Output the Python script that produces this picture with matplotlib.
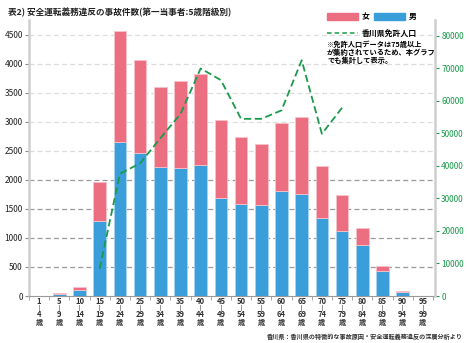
"""
安全運転義務違反の事故件数（第一当事者：5歳階級別）
男女別の積み上げ棒グラフ + 香川県免許人口（右軸）
"""
import numpy as np
import matplotlib.pyplot as plt
from matplotlib.patches import Rectangle
from matplotlib.lines import Line2D
from matplotlib.ticker import FixedLocator

plt.rcParams['font.family'] = ['Noto Sans CJK JP', 'DejaVu Sans']

# 年齢階級（下限, 上限）
age_lo = ['1', '5', '10', '15', '20', '25', '30', '35', '40', '45',
          '50', '55', '60', '65', '70', '75', '80', '85', '90', '95']
age_hi = ['4', '9', '14', '19', '24', '29', '34', '39', '44', '49',
          '54', '59', '64', '69', '74', '79', '84', '89', '94', '99']

# 事故件数（男・女）
male = [0, 29, 103, 1297, 2655, 2468, 2227, 2210, 2250, 1693,
        1584, 1562, 1803, 1762, 1348, 1124, 878, 430, 62, 0]
female = [0, 17, 57, 661, 1910, 1596, 1377, 1498, 1573, 1338,
          1154, 1046, 1171, 1326, 896, 615, 288, 81, 16, 0]

# 香川県免許人口（15～19歳から75歳以上まで）
license_idx = [3, 4, 5, 6, 7, 8, 9, 10, 11, 12, 13, 14, 15]
license_pop = [8400, 37600, 40800, 48500, 56000, 70000, 66400,
               54500, 54500, 57100, 72500, 49900, 57900]

COL_F = '#EB6E81'
COL_M = '#3A9EDA'
COL_G = '#1B9A4B'


def draw_chart(out_path='out.png'):
    """棒グラフと折れ線を描画"""
    fig = plt.figure(figsize=(4.69, 3.43), dpi=100)
    ax = fig.add_axes([0.0618, 0.137, 0.8657, 0.8047])

    x = np.arange(len(age_lo))
    m = np.array(male)
    f = np.array(female)

    # グリッド（2000以下は濃い破線）
    for v in range(500, 5000, 500):
        c = '#9a9a9a' if v <= 2000 else '#dddddd'
        ax.axhline(v, color=c, lw=0.9, ls=(0, (4, 2.5)), zorder=0)

    ax.bar(x, m, width=0.63, color=COL_M, edgecolor='#a8d4f0', lw=0.6, zorder=2)
    ax.bar(x, f, width=0.63, bottom=m, color=COL_F, edgecolor='#f7c3cb',
           lw=0.6, zorder=2)

    ax.set_xlim(-0.5, 19.6)
    ax.set_ylim(0, 4750)
    ax.set_yticks(range(0, 5000, 500))
    ax.tick_params(axis='y', labelsize=6, length=3, color='#888888', width=0.8,
                   pad=1.5, labelcolor='#222222')

    # x軸ラベルは縦書き風に1行ずつ配置
    ax.set_xticks(x)
    ax.set_xticklabels([])
    ax.tick_params(axis='x', length=0)
    ax.xaxis.set_minor_locator(FixedLocator(np.arange(-0.5, 20, 1.0)))
    ax.tick_params(axis='x', which='minor', length=3, color='#999999', width=0.6)

    trans = ax.get_xaxis_transform()
    ax_h = 276.0

    def ay(py):
        return (296.0 - py) / ax_h

    for i, (a, b) in enumerate(zip(age_lo, age_hi)):
        kw = dict(transform=trans, ha='center', va='center', fontweight='bold',
                  color='#333333', clip_on=False)
        ax.text(i, ay(301.5), a, fontsize=5.5, **kw)
        ax.text(i, ay(307.5), '|', fontsize=3.5, **kw)
        ax.text(i, ay(314), b, fontsize=5.5, **kw)
        ax.text(i, ay(322.5), '歳', fontsize=5.2, **kw)

    ax.spines['top'].set_visible(False)
    ax.spines['left'].set_color('#cfcfcf')
    ax.spines['left'].set_linewidth(1.8)
    ax.spines['right'].set_visible(False)
    ax.spines['bottom'].set_color('#999999')
    ax.spines['bottom'].set_linewidth(0.8)

    # 右軸：免許人口
    ax2 = ax.twinx()
    ax2.plot(license_idx, license_pop, color=COL_G, lw=1.3, ls=(0, (4, 2)),
             zorder=3)
    ax2.set_ylim(0, 84900)
    ax2.set_yticks(range(0, 90000, 10000))
    ax2.tick_params(axis='y', labelsize=6, length=3, color=COL_G, width=0.8,
                    labelcolor=COL_G, pad=1.5)
    for s in ['top', 'left', 'bottom']:
        ax2.spines[s].set_visible(False)
    ax2.spines['right'].set_color('#cfcfcf')
    ax2.spines['right'].set_linewidth(1.8)

    # 凡例（手動配置）
    W, H = 469.0, 343.0

    def fx(px):
        return px / W

    def fy(py):
        return 1 - py / H

    fig.add_artist(Rectangle((fx(327), fy(20)), 31 / W, 7 / H,
                             transform=fig.transFigure, color=COL_F))
    fig.text(fx(362), fy(16.5), '女', fontsize=5.7, va='center', fontweight='bold')
    fig.add_artist(Rectangle((fx(374), fy(20)), 31 / W, 7 / H,
                             transform=fig.transFigure, color=COL_M))
    fig.text(fx(409), fy(16.5), '男', fontsize=5.7, va='center', fontweight='bold')
    fig.add_artist(Line2D([fx(327), fx(358)], [fy(33), fy(33)],
                          transform=fig.transFigure, color=COL_G, lw=1.1,
                          ls=(0, (3, 2))))
    fig.text(fx(362), fy(33), '香川県免許人口', fontsize=5.7, va='center',
             fontweight='bold')
    fig.text(fx(327), fy(40),
             '※免許人口データは75歳以上\nが集約されているため、本グラフ\nでも集計して表示。',
             fontsize=5.2, va='top', linespacing=1.1, fontweight='bold')

    # タイトル・出典
    fig.text(fx(8), fy(12), '表2) 安全運転義務違反の事故件数(第一当事者:5歳階級別)',
             fontsize=6.2, va='center', fontweight='bold', color='#222222')
    fig.text(fx(463), fy(336),
             '香川県：香川県の特徴的な事故原因・安全運転義務違反の深層分析より',
             fontsize=4.4, ha='right', va='center', fontweight='bold',
             color='#333333')

    fig.savefig(out_path, dpi=100)
    plt.close(fig)


def main():
    draw_chart('out.png')


if __name__ == '__main__':
    main()
